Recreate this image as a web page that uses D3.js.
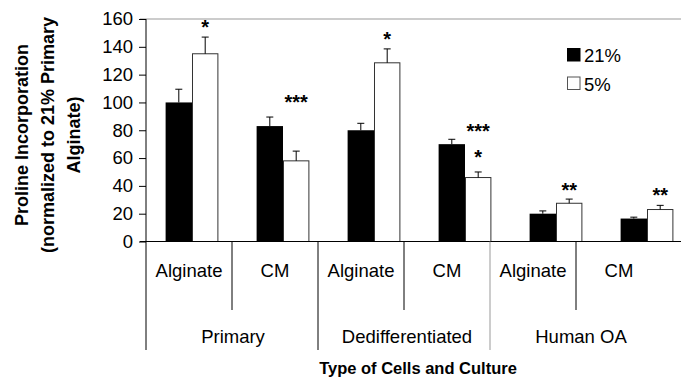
<!DOCTYPE html>
<html>
<head>
<meta charset="utf-8">
<script src="https://cdn.jsdelivr.net/npm/d3@7/dist/d3.min.js"></script>
<style>
  body { margin: 0; background: #fff; }
  text { font-family: Arial, "Liberation Sans", sans-serif; fill: #000; }
</style>
</head>
<body>
<script>
var width = 681, height = 391

// data
var groups = ["Primary", "Dedifferentiated", "Human OA"]
var cultures = ["Alginate", "CM"]
var series = ["21%", "5%"]
var values21 = [100, 83, 80, 70, 20, 16.5]
var err21 = [9.5, 6.5, 5, 3.5, 2, 1]
var values5 = [135, 58, 128.5, 46, 27.5, 23]
var err5 = [12, 7, 10, 4, 3, 3]
// significance marks over the 5% bars: [category index, label, y value]
var stars = [[0, "*", 156], [1, "***", 102], [2, "*", 147], [3, "***", 81], [3, "*", 62], [4, "**", 38.5], [5, "**", 35]]
var yTicks = [0, 20, 40, 60, 80, 100, 120, 140, 160]

var cats = []
groups.forEach(function (g) { cultures.forEach(function (c) { cats.push(g + "|" + c) }) })

var svg = d3.select("body").append("svg")
    .attr("width", width)
    .attr("height", height)

var y = d3.scaleLinear().domain([0, 160]).range([241.5, 19])

var x0 = d3.scaleBand().domain(cats).range([146.5, 692.5])
    .paddingInner(0.42).paddingOuter(0.21)
var x1 = d3.scaleBand().domain(series).range([0, x0.bandwidth()])

// label table under the axis
var xc = d3.scaleBand().domain(cats).range([146, 662])
var xg = d3.scaleBand().domain(groups).range([146, 668])

// top border
svg.append("line")
    .attr("x1", 140).attr("x2", width)
    .attr("y1", y(160)).attr("y2", y(160))
    .attr("stroke", "#999")

// y axis
var yAxis = svg.append("g")
    .attr("transform", "translate(146,0)")
    .call(d3.axisLeft(y).tickValues(yTicks).tickSize(7).tickPadding(6))
yAxis.select(".domain").remove()
yAxis.selectAll("text").style("font-size", "18.5px").attr("font-family", null)

svg.append("line")
    .attr("x1", 146).attr("x2", 146)
    .attr("y1", y(160)).attr("y2", 350)
    .attr("stroke", "#000")

// bars
var bars = svg.append("g")
cats.forEach(function (c, i) {
    var rows = [
        {s: "21%", v: values21[i], e: err21[i]},
        {s: "5%", v: values5[i], e: err5[i]}
    ]
    var g = bars.append("g").attr("transform", "translate(" + x0(c) + ",0)")
    g.selectAll("rect").data(rows).enter().append("rect")
        .attr("x", function (d) { return x1(d.s) + (d.s === "5%" ? 0.5 : 0) })
        .attr("width", function (d) { return x1.bandwidth() - (d.s === "5%" ? 1 : 0) })
        .attr("y", function (d) { return y(d.v) })
        .attr("height", function (d) { return y(0) - y(d.v) })
        .attr("fill", function (d) { return d.s === "21%" ? "#000" : "#fff" })
        .attr("stroke", function (d) { return d.s === "21%" ? "none" : "#333" })
    var eb = g.selectAll(".err").data(rows).enter().append("g").attr("class", "err")
    eb.append("line")
        .attr("x1", function (d) { return x1(d.s) + x1.bandwidth() / 2 })
        .attr("x2", function (d) { return x1(d.s) + x1.bandwidth() / 2 })
        .attr("y1", function (d) { return y(d.v) })
        .attr("y2", function (d) { return y(d.v + d.e) })
        .attr("stroke", "#000")
    eb.append("line")
        .attr("x1", function (d) { return x1(d.s) + x1.bandwidth() / 2 - 3.5 })
        .attr("x2", function (d) { return x1(d.s) + x1.bandwidth() / 2 + 3.5 })
        .attr("y1", function (d) { return y(d.v + d.e) })
        .attr("y2", function (d) { return y(d.v + d.e) })
        .attr("stroke", "#000")
})

// x axis line
svg.append("line")
    .attr("x1", 140).attr("x2", width)
    .attr("y1", y(0)).attr("y2", y(0))
    .attr("stroke", "#000")

// stars
svg.append("g").selectAll("text").data(stars).enter().append("text")
    .attr("x", function (d) { return x0(cats[d[0]]) + x1("5%") + x1.bandwidth() / 2 })
    .attr("y", function (d) { return y(d[2]) + 9 })
    .attr("text-anchor", "middle")
    .style("font-size", "20px")
    .style("font-weight", "bold")
    .text(function (d) { return d[1] })

// separators and labels of the category table
cats.forEach(function (c, i) {
    var first = i % 2 === 0
    svg.append("line")
        .attr("x1", xc(c) + xc.bandwidth()).attr("x2", xc(c) + xc.bandwidth())
        .attr("y1", y(0)).attr("y2", first ? 310 : 350)
        .attr("stroke", i === 3 ? "#999" : "#000")
        .style("display", i === 5 ? "none" : null)
    svg.append("text")
        .attr("x", xc(c) + xc.bandwidth() / 2)
        .attr("y", 277)
        .attr("text-anchor", "middle")
        .style("font-size", "18.5px")
        .text(c.split("|")[1])
})
svg.append("g").selectAll("text").data(groups).enter().append("text")
    .attr("x", function (d) { return xg(d) + xg.bandwidth() / 2 })
    .attr("y", 343)
    .attr("text-anchor", "middle")
    .style("font-size", "18.5px")
    .text(function (d) { return d })

// axis titles
svg.append("text")
    .attr("x", 418).attr("y", 374)
    .attr("text-anchor", "middle")
    .style("font-size", "16.5px")
    .style("font-weight", "bold")
    .text("Type of Cells and Culture")

var yTitle = ["Proline Incorporation", "(normalized to 21% Primary", "Alginate)"]
svg.append("g").selectAll("text").data(yTitle).enter().append("text")
    .attr("transform", function (d, i) { return "translate(" + (28 + i * 26) + ",135) rotate(-90)" })
    .attr("text-anchor", "middle")
    .style("font-size", "18px")
    .style("font-weight", "bold")
    .text(function (d) { return d })

// legend
var legend = svg.append("g").attr("transform", "translate(567,48)")
    .selectAll("g").data(series).enter().append("g")
    .attr("transform", function (d, i) { return "translate(0," + i * 28.5 + ")" })
legend.append("rect")
    .attr("x", 0.5).attr("y", 0.5)
    .attr("width", 12.5).attr("height", 12.5)
    .attr("fill", function (d) { return d === "21%" ? "#000" : "#fff" })
    .attr("stroke", function (d) { return d === "21%" ? "#000" : "#555" })
legend.append("text")
    .attr("x", 17).attr("y", 14)
    .style("font-size", "18.5px")
    .text(function (d) { return d })
</script>
</body>
</html>
